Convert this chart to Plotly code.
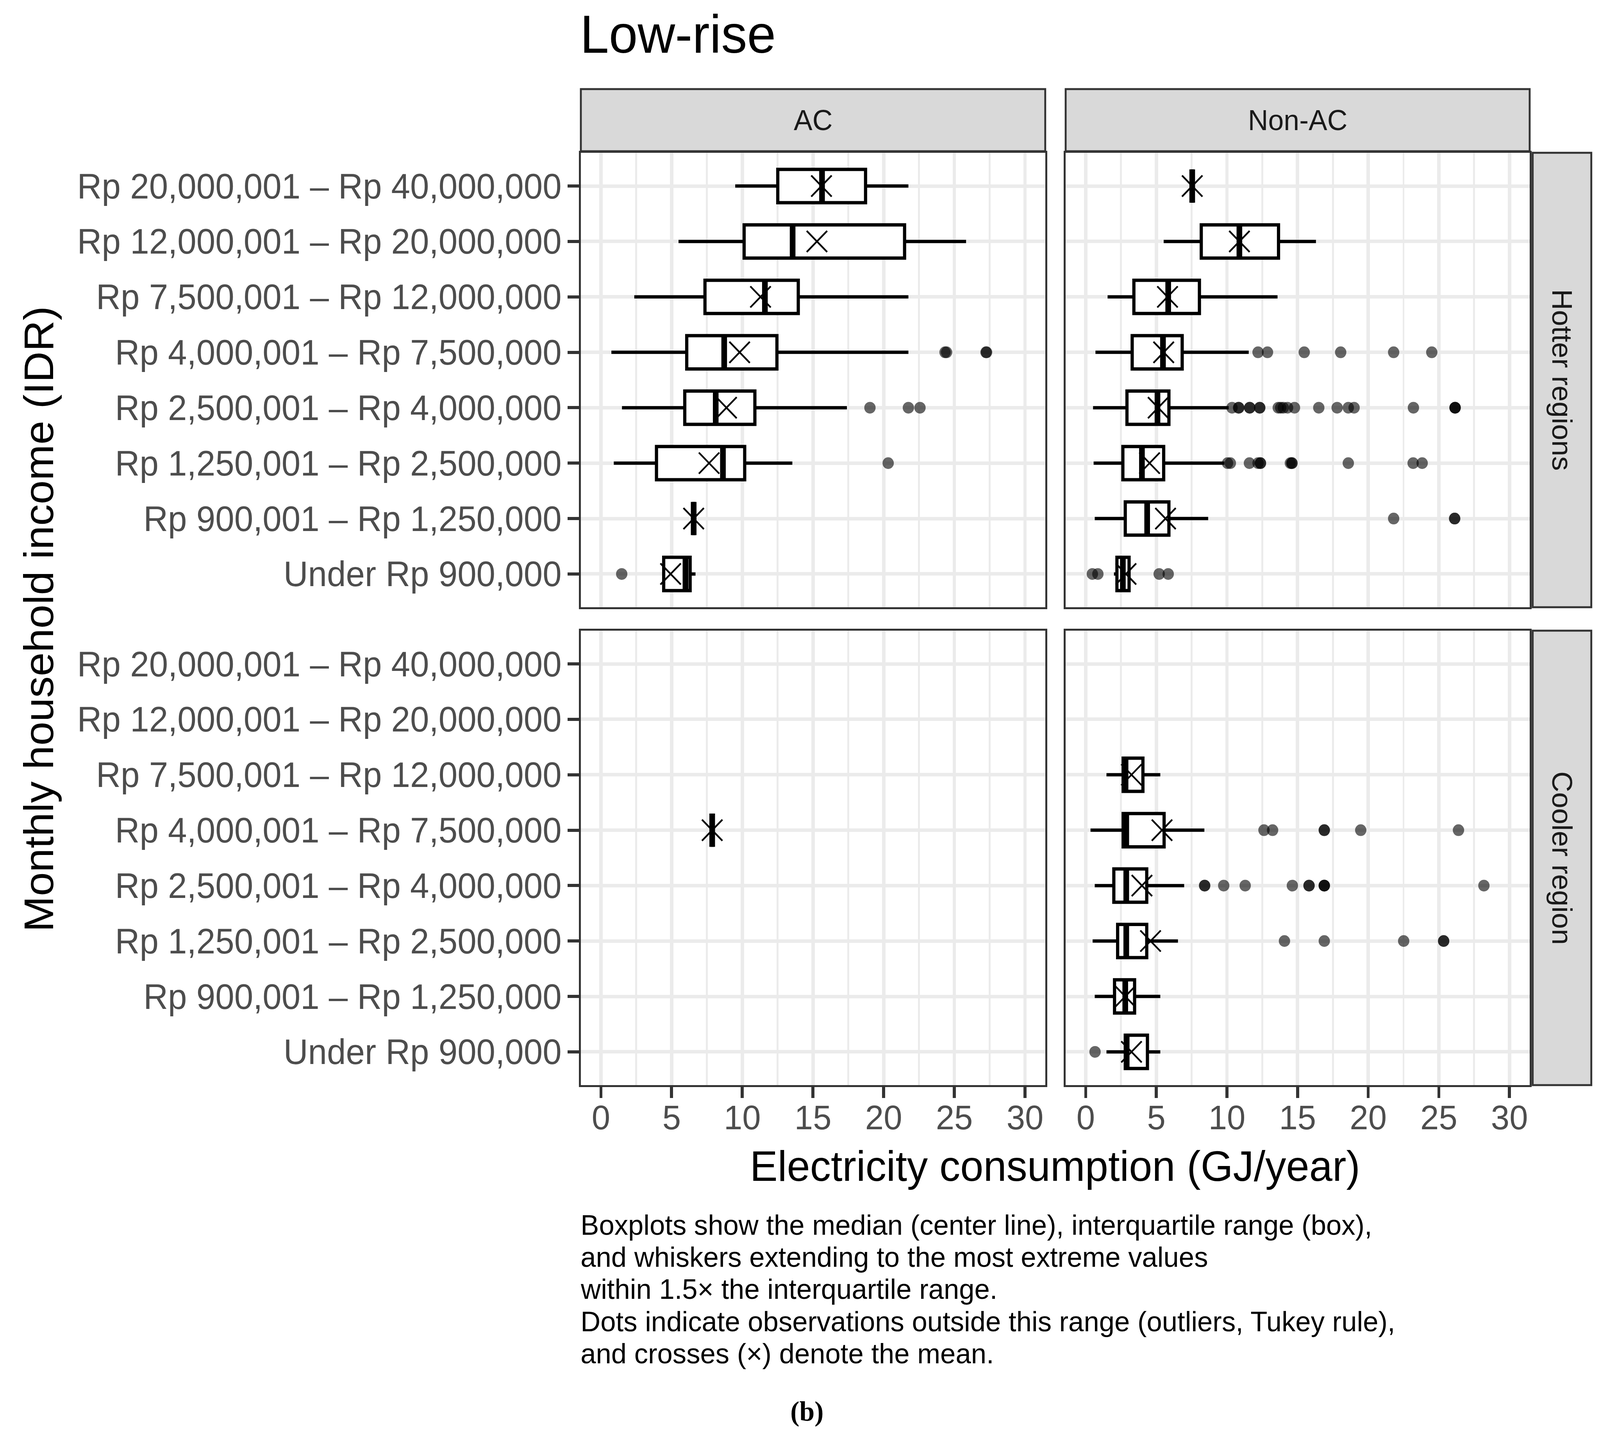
import plotly.graph_objects as go

# ---------------- data ----------------
categories = ["Under Rp 900,000", "Rp 900,001 – Rp 1,250,000", "Rp 1,250,001 – Rp 2,500,000",
              "Rp 2,500,001 – Rp 4,000,000", "Rp 4,000,001 – Rp 7,500,000", "Rp 7,500,001 – Rp 12,000,000",
              "Rp 12,000,001 – Rp 20,000,000", "Rp 20,000,001 – Rp 40,000,000"]
x_ticks = [0, 5, 10, 15, 20, 25, 30]

# AC, hotter regions (bottom -> top category order)
ac_hot_lo = [4.44, 6.56, 0.91, 1.49, 0.74, 2.36, 5.49, 9.50]
ac_hot_q1 = [4.44, 6.56, 3.93, 5.93, 6.07, 7.36, 10.13, 12.51]
ac_hot_med = [5.98, 6.56, 8.63, 8.12, 8.72, 11.60, 13.56, 15.64]
ac_hot_q3 = [6.31, 6.56, 10.17, 10.89, 12.45, 13.96, 21.48, 18.72]
ac_hot_hi = [6.69, 6.56, 13.54, 17.40, 21.75, 21.75, 25.83, 21.75]
ac_hot_mean = [4.93, 6.56, 7.65, 8.88, 9.81, 11.29, 15.28, 15.60]
ac_hot_out = [[1.47], [], [20.32], [19.03, 21.75, 22.57], [24.34, 24.45, 27.24, 27.28], [], [], []]

# Non-AC, hotter regions
nac_hot_lo = [2.00, 0.64, 0.56, 0.52, 0.69, 1.55, 5.52, 7.54]
nac_hot_q1 = [2.21, 2.80, 2.63, 2.92, 3.29, 3.41, 8.18, 7.54]
nac_hot_med = [2.63, 4.35, 3.98, 5.08, 5.47, 5.84, 10.88, 7.54]
nac_hot_q3 = [3.07, 5.89, 5.52, 5.89, 6.83, 8.05, 13.65, 7.54]
nac_hot_hi = [3.07, 8.67, 9.82, 10.12, 11.54, 13.58, 16.30, 7.54]
nac_hot_mean = [2.85, 5.65, 4.52, 5.13, 5.52, 5.79, 10.88, 7.54]
nac_hot_out = [[0.47, 0.86, 5.20, 5.84],
               [21.80, 26.12, 26.12],
               [10.04, 10.24, 11.59, 12.20, 12.37, 12.37, 14.49, 14.60, 14.60, 18.59, 23.18, 23.82],
               [10.36, 10.83, 10.83, 11.61, 11.61, 12.32, 12.32, 13.63, 13.80, 13.99, 14.29, 14.78,
                16.50, 17.80, 18.59, 19.00, 23.20, 26.15, 26.15, 26.15],
               [12.20, 12.87, 15.47, 18.05, 21.80, 24.50],
               [], [], []]

# AC, cooler region
ac_cool_lo = [None, None, None, None, 7.87, None, None, None]
ac_cool_q1 = [None, None, None, None, 7.87, None, None, None]
ac_cool_med = [None, None, None, None, 7.87, None, None, None]
ac_cool_q3 = [None, None, None, None, 7.87, None, None, None]
ac_cool_hi = [None, None, None, None, 7.87, None, None, None]
ac_cool_mean = [None, None, None, None, 7.87, None, None, None]
ac_cool_out = [[], [], [], [], [], [], [], []]

# Non-AC, cooler region
nac_cool_lo = [1.47, 0.64, 0.49, 0.64, 0.34, 1.47, None, None]
nac_cool_q1 = [2.80, 2.04, 2.26, 1.99, 2.65, 2.65, None, None]
nac_cool_med = [2.90, 2.80, 2.87, 2.87, 2.87, 2.82, None, None]
nac_cool_q3 = [4.37, 3.46, 4.32, 4.32, 5.55, 4.05, None, None]
nac_cool_hi = [5.28, 5.28, 6.53, 6.97, 8.40, 5.28, None, None]
nac_cool_mean = [3.24, 2.80, 4.59, 3.98, 5.40, 3.24, None, None]
nac_cool_out = [[0.66], [], [14.07, 16.89, 22.51, 25.34, 25.34],
                [8.42, 8.42, 9.77, 11.29, 14.63, 15.81, 15.81, 16.89, 16.89, 16.89, 28.19],
                [12.62, 13.23, 16.89, 16.89, 19.47, 26.39], [], [], []]

col_labels = ["AC", "Non-AC"]
row_labels = ["Hotter regions", "Cooler region"]
title_text = "Low-rise"
x_title = "Electricity consumption (GJ/year)"
y_title = "Monthly household income (IDR)"
caption_lines = ["Boxplots show the median (center line), interquartile range (box),",
                 "and whiskers extending to the most extreme values",
                 "within 1.5× the interquartile range.",
                 "Dots indicate observations outside this range (outliers, Tukey rule),",
                 "and crosses (×) denote the mean."]
panel_label = "(b)"

# ---------------- layout geometry (pixels) ----------------
W, H = 4231, 3675
FONT = "Liberation Sans, Arial, Helvetica, sans-serif"
BOX_W = 0.6


def px(x):
    return x / W


def py(y):
    return 1 - y / H


col_x = [(1536, 2764), (2818, 4045)]
row_y = [(391, 1554), (1614, 2777)]
strip_top = (228, 387)
strip_right = (4053, 4208)

fig = go.Figure()

panels = [
    (0, 0, ac_hot_lo, ac_hot_q1, ac_hot_med, ac_hot_q3, ac_hot_hi, ac_hot_mean, ac_hot_out),
    (0, 1, nac_hot_lo, nac_hot_q1, nac_hot_med, nac_hot_q3, nac_hot_hi, nac_hot_mean, nac_hot_out),
    (1, 0, ac_cool_lo, ac_cool_q1, ac_cool_med, ac_cool_q3, ac_cool_hi, ac_cool_mean, ac_cool_out),
    (1, 1, nac_cool_lo, nac_cool_q1, nac_cool_med, nac_cool_q3, nac_cool_hi, nac_cool_mean, nac_cool_out),
]

for (r, c, lo, q1, med, q3, hi, mean, outs) in panels:
    idx = r * 2 + c + 1
    xa = "x" if idx == 1 else f"x{idx}"
    ya = "y" if idx == 1 else f"y{idx}"
    sel = [i for i in range(len(categories)) if med[i] is not None]
    pos = [i + 1 for i in sel]
    fig.add_trace(go.Box(
        y=pos, q1=[q1[i] for i in sel], median=[med[i] for i in sel], q3=[q3[i] for i in sel],
        lowerfence=[lo[i] for i in sel], upperfence=[hi[i] for i in sel],
        orientation="h", width=BOX_W, boxpoints=False, whiskerwidth=0,
        fillcolor="white", line=dict(color="black", width=8.5),
        xaxis=xa, yaxis=ya, showlegend=False, hoverinfo="skip"))
    # thick median line (ggplot fatten)
    mx, my = [], []
    for i in sel:
        mx += [med[i], med[i], None]
        my += [i + 1 - BOX_W / 2, i + 1 + BOX_W / 2, None]
    fig.add_trace(go.Scatter(x=mx, y=my, mode="lines", line=dict(color="black", width=15),
                             xaxis=xa, yaxis=ya, showlegend=False, hoverinfo="skip"))
    # outliers
    ox, oy = [], []
    for i, vals in enumerate(outs):
        for v in vals:
            ox.append(v)
            oy.append(i + 1)
    if ox:
        fig.add_trace(go.Scatter(x=ox, y=oy, mode="markers",
                                 marker=dict(color="rgba(0,0,0,0.6)", size=30, line=dict(width=0)),
                                 xaxis=xa, yaxis=ya, showlegend=False, hoverinfo="skip"))
    # means
    fig.add_trace(go.Scatter(x=[mean[i] for i in sel], y=pos, mode="markers",
                             marker=dict(symbol="x-thin", size=54, color="black",
                                         line=dict(color="black", width=4.5)),
                             xaxis=xa, yaxis=ya, showlegend=False, hoverinfo="skip"))

layout = dict(width=W, height=H, margin=dict(l=0, r=0, t=0, b=0),
              paper_bgcolor="white", plot_bgcolor="white", showlegend=False,
              font=dict(family=FONT))

for r in range(2):
    for c in range(2):
        idx = r * 2 + c + 1
        xk = "xaxis" if idx == 1 else f"xaxis{idx}"
        yk = "yaxis" if idx == 1 else f"yaxis{idx}"
        xa_anchor = "y" if idx == 1 else f"y{idx}"
        ya_anchor = "x" if idx == 1 else f"x{idx}"
        bottom = (r == 1)
        left = (c == 0)
        layout[xk] = dict(
            domain=[px(col_x[c][0]), px(col_x[c][1])], anchor=xa_anchor,
            range=[-1.42, 31.43], tickvals=x_ticks, ticktext=[str(t) for t in x_ticks],
            showgrid=True, gridcolor="#EBEBEB", gridwidth=9,
            minor=dict(tick0=0, dtick=2.5, showgrid=True, gridcolor="#EBEBEB", gridwidth=4.5),
            zeroline=False, showline=True, mirror=True, linecolor="#333333", linewidth=5,
            ticks="outside" if bottom else "", ticklen=28, tickwidth=8, tickcolor="#333333",
            showticklabels=bottom, tickfont=dict(size=88, color="#4D4D4D", family=FONT),
            ticklabelstandoff=-26, fixedrange=True)
        layout[yk] = dict(
            domain=[py(row_y[r][1]), py(row_y[r][0])], anchor=ya_anchor,
            range=[0.4, 8.6], tickvals=list(range(1, 9)), ticktext=categories,
            showgrid=True, gridcolor="#EBEBEB", gridwidth=9,
            zeroline=False, showline=True, mirror=True, linecolor="#333333", linewidth=5,
            ticks="outside" if left else "", ticklen=30, tickwidth=8, tickcolor="#333333",
            showticklabels=left, tickfont=dict(size=90, color="#4D4D4D", family=FONT),
            ticklabelstandoff=-2, fixedrange=True)

shapes = []
annotations = []
# top strips
for c in range(2):
    shapes.append(dict(type="rect", xref="paper", yref="paper",
                       x0=px(col_x[c][0]), x1=px(col_x[c][1]), y0=py(strip_top[1]), y1=py(strip_top[0]),
                       fillcolor="#D9D9D9", line=dict(color="#333333", width=5), layer="above"))
    annotations.append(dict(text=col_labels[c], xref="paper", yref="paper",
                            x=px((col_x[c][0] + col_x[c][1]) / 2), y=py((strip_top[0] + strip_top[1]) / 2),
                            xanchor="center", yanchor="middle", showarrow=False,
                            font=dict(size=74, color="#1A1A1A", family=FONT)))
# right strips
for r in range(2):
    shapes.append(dict(type="rect", xref="paper", yref="paper",
                       x0=px(strip_right[0]), x1=px(strip_right[1]), y0=py(row_y[r][1]), y1=py(row_y[r][0]),
                       fillcolor="#D9D9D9", line=dict(color="#333333", width=5), layer="above"))
    annotations.append(dict(text=row_labels[r], xref="paper", yref="paper", textangle=90,
                            x=px((strip_right[0] + strip_right[1]) / 2), y=py((row_y[r][0] + row_y[r][1]) / 2),
                            xanchor="center", yanchor="middle", showarrow=False,
                            font=dict(size=74, color="#1A1A1A", family=FONT)))

annotations.append(dict(text=title_text, xref="paper", yref="paper", x=px(1532), y=py(88),
                        xanchor="left", yanchor="middle", showarrow=False,
                        font=dict(size=137, color="black", family=FONT)))
annotations.append(dict(text=x_title, xref="paper", yref="paper", x=px(2790), y=py(2983),
                        xanchor="center", yanchor="middle", showarrow=False,
                        font=dict(size=110, color="black", family=FONT)))
annotations.append(dict(text=y_title, xref="paper", yref="paper", x=px(102), y=py(1584),
                        xanchor="center", yanchor="middle", showarrow=False, textangle=-90,
                        font=dict(size=110, color="black", family=FONT)))
cap_mid = [3134, 3216, 3298, 3381, 3463]
for line, ym in zip(caption_lines, cap_mid):
    annotations.append(dict(text=line, xref="paper", yref="paper", x=px(1533), y=py(ym),
                            xanchor="left", yanchor="middle", showarrow=False,
                            font=dict(size=73, color="black", family=FONT)))
annotations.append(dict(text="<b>" + panel_label + "</b>", xref="paper", yref="paper", x=px(2134), y=py(3612),
                        xanchor="center", yanchor="middle", showarrow=False,
                        font=dict(size=72, color="black", family="Liberation Serif, Times New Roman, serif")))

layout["shapes"] = shapes
layout["annotations"] = annotations
fig.update_layout(**layout)

# fit the fixed-size figure into the actual viewport if the window is smaller than requested
fit_js = (
    "var gd=document.getElementById('{plot_id}');"
    "document.documentElement.style.margin='0';document.body.style.margin='0';"
    "document.documentElement.style.overflow='hidden';document.body.style.overflow='hidden';"
    "var sx=Math.min(1,window.innerWidth/%d), sy=Math.min(1,window.innerHeight/%d);"
    "if(sx<1||sy<1){gd.style.transformOrigin='0 0';gd.style.transform='scale('+sx+','+sy+')';}"
) % (W, H)
fig.write_html("out.html", post_script=fit_js, config={"displayModeBar": False})
